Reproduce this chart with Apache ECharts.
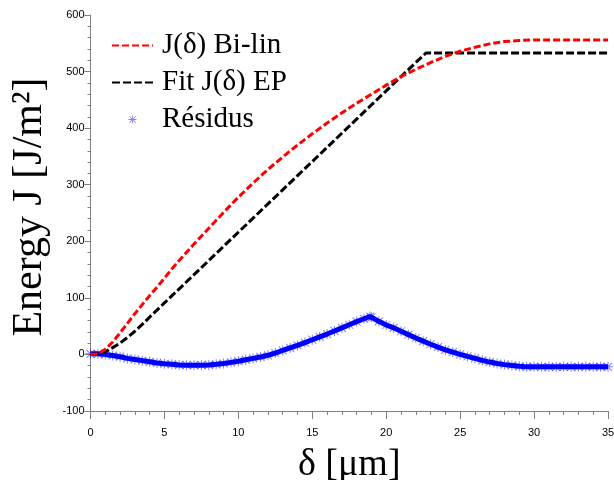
<!DOCTYPE html>
<html>
<head>
<meta charset="utf-8">
<script src="https://cdn.jsdelivr.net/npm/echarts@6/dist/echarts.min.js"></script>
<style>
html,body{margin:0;padding:0;background:#fff;}
#chart{width:614px;height:480px;}
</style>
</head>
<body>
<div id="chart"></div>
<script>
// --- data ---
const xBiLin = [0,0.5,1,1.5,2,2.5,3,3.5,4,4.5,5,5.5,6,7,8,9,10,11,12,13,14,15,16,17,18,19,20,21,22,23,24,25,26,27,28,29,30,31,32,33,34,35];
const jBiLin = [0,1,9,22,38,55,72,88,104,119,135,151,166,195,223,251,278,303,327,349,370,390,409,427,444,460,476,491,504,516,527,536,543,549,553,555,556,556,556,556,556,556];

const xEP = [0,0.5,1,1.5,2,2.5,3,3.5,4,5,6,7,8,9,10,11,12,13,14,15,16,17,18,19,20,21,22,22.7,35];
const jEP = [0,1,5,12,20,30,41,53,66,91,116,141,166,191,216,241,266,291,316,341,366,391,416,441,466,491,516,533,533];

const xRes = [0,0.5,1,1.5,2,2.5,3,3.5,4,4.5,5,5.5,6,6.5,7,7.5,8,8.5,9,9.5,10,10.5,11,11.5,12,12.5,13,13.5,14,14.5,15,15.5,16,16.5,17,17.5,18,18.5,18.9,19,19.5,20,20.5,21,21.5,22,22.5,23,23.5,24,24.5,25,25.5,26,26.5,27,27.5,28,28.5,29,29.5,30,30.5,31,31.5,32,32.5,33,33.5,34,34.5,35];
const yRes = [1,1,0,-2,-4,-7,-9,-11,-13,-15,-16.5,-17.5,-18.5,-19,-19,-19,-18.5,-17.5,-16,-14,-12,-9.5,-7,-4.5,-1.5,2.5,7,11.5,16,21,26,31,36,41.5,47,52.5,58,63,67,65.5,58.5,52,47,41,35,29,23.5,18,13,8,4,0,-3.5,-7,-10.5,-13.5,-16,-18,-19.5,-21,-22,-22,-22,-22,-22,-22,-22,-22,-22,-22,-22,-22];

const xTicksMin = 0, xTicksMax = 35, xTickStep = 5;
const yTicksMin = -100, yTicksMax = 600, yTickStep = 100;

const names = ['J(δ) Bi-lin', 'Fit J(δ) EP', 'Résidus'];
const xTitle = 'δ [μm]';
const yTitle = 'Energy J [J/m²]';

const zip = (a, b) => a.map((v, i) => [v, b[i]]);

// filled asterisk path
const asterisk = 'path://M0,4.5L10,4.5L10,5.5L0,5.5Z M4.5,0L5.5,0L5.5,10L4.5,10Z M1.35,0.65L9.35,8.65L8.65,9.35L0.65,1.35Z M8.65,0.65L9.35,1.35L1.35,9.35L0.65,8.65Z';

const chart = echarts.init(document.getElementById('chart'), null, {renderer: 'canvas'});
chart.setOption({
  animation: false,
  backgroundColor: '#ffffff',
  grid: {left: 90.5, right: 6, top: 15, bottom: 69, containLabel: false, outerBoundsMode: 'none'},
  legend: {
    orient: 'vertical',
    left: 106,
    top: 26,
    itemWidth: 41,
    itemHeight: 8,
    itemGap: 8,
    textStyle: {fontFamily: 'Liberation Serif', fontSize: 29, color: '#000', lineHeight: 28, padding: [0, 0, 0, 4]},
    data: [
      {name: names[0], itemStyle: {opacity: 0}},
      {name: names[1], itemStyle: {opacity: 0}},
      {name: names[2], icon: asterisk}
    ]
  },
  xAxis: {
    type: 'value',
    min: xTicksMin, max: xTicksMax, interval: xTickStep,
    name: xTitle, nameLocation: 'middle', nameGap: 35,
    nameTextStyle: {fontFamily: 'Liberation Serif', fontSize: 38, color: '#000'},
    axisLine: {onZero: false, lineStyle: {color: '#808080', width: 1}},
    axisTick: {show: true, inside: false, length: 8, lineStyle: {color: '#808080'}},
    minorTick: {show: true, splitNumber: 5, length: 4, lineStyle: {color: '#808080'}},
    axisLabel: {margin: 16, fontFamily: 'Liberation Sans', fontSize: 11, color: '#000'},
    splitLine: {show: false}
  },
  yAxis: {
    type: 'value',
    min: yTicksMin, max: yTicksMax, interval: yTickStep,
    name: yTitle, nameLocation: 'middle', nameGap: 40, nameRotate: 90,
    nameTextStyle: {fontFamily: 'Liberation Serif', fontSize: 42, color: '#000', padding: [0, 0, 0, 12]},
    axisLine: {onZero: false, lineStyle: {color: '#808080', width: 1}},
    axisTick: {show: true, inside: false, length: 6, lineStyle: {color: '#808080'}},
    minorTick: {show: true, splitNumber: 5, length: 3, lineStyle: {color: '#808080'}},
    axisLabel: {margin: 6, fontFamily: 'Liberation Sans', fontSize: 11, color: '#000'},
    splitLine: {show: false}
  },
  series: [
    {
      name: names[2], type: 'line', data: zip(xRes, yRes),
      symbol: asterisk, symbolSize: 10, showSymbol: true, clip: false,
      itemStyle: {color: '#0000ff', opacity: 0.5},
      lineStyle: {color: '#0000ff', width: 5},
      z: 1
    },
    {
      name: names[0], type: 'line', data: zip(xBiLin, jBiLin),
      symbol: 'none', showSymbol: false, clip: false,
      itemStyle: {color: '#ff0000'},
      lineStyle: {color: '#ff0000', width: 3, type: [7, 3]},
      z: 3
    },
    {
      name: names[1], type: 'line', data: zip(xEP, jEP),
      symbol: 'none', showSymbol: false, clip: false,
      itemStyle: {color: '#000000'},
      lineStyle: {color: '#000000', width: 3, type: [8, 3]},
      z: 2
    }
  ]
});
</script>
</body>
</html>
